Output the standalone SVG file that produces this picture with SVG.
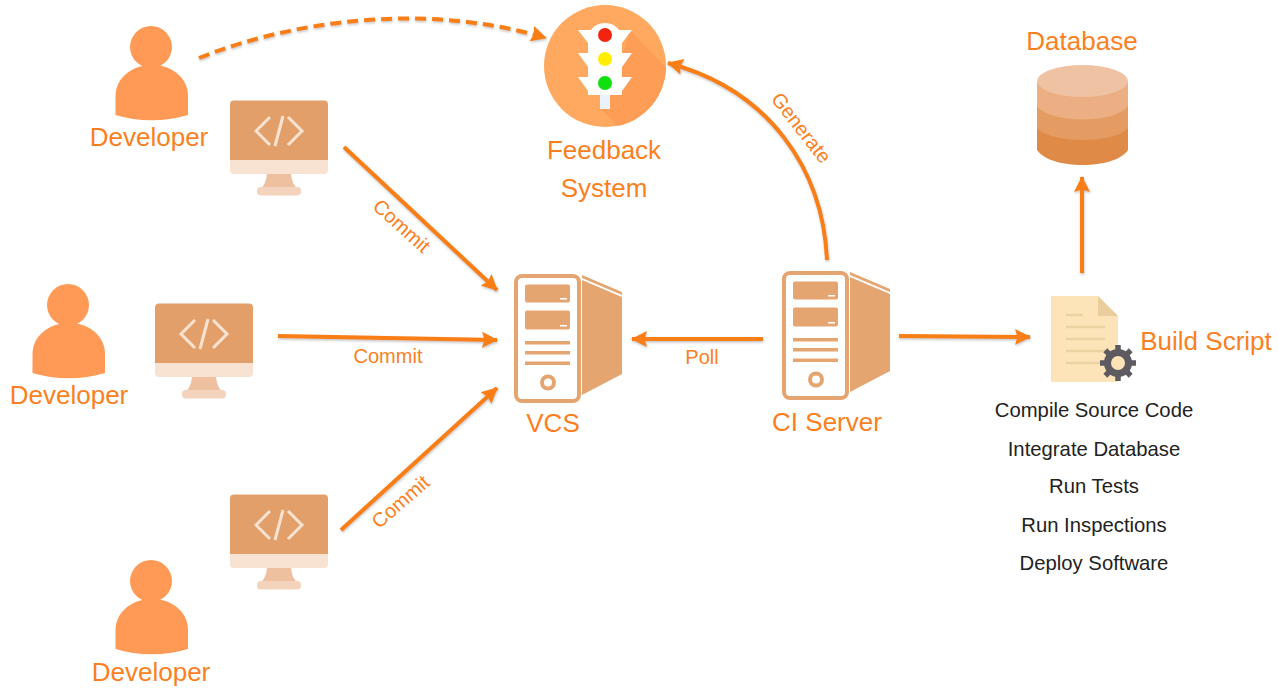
<svg xmlns="http://www.w3.org/2000/svg" width="1278" height="688" viewBox="0 0 1278 688">
<style>
text{font-family:"Liberation Sans",Arial,sans-serif;text-anchor:middle}
.lg{font-size:26px;fill:#fb7f1e}
.sm{font-size:20px;fill:#fb7f1e}
.bk{font-size:20.300px;fill:#222}
.c{fill:none;stroke:#f97e14;stroke-width:4}
.srv{fill:#e5a570}
</style>
<defs>
<filter id="sh" filterUnits="userSpaceOnUse" x="0" y="0" width="1278" height="688"><feDropShadow dx="0.500" dy="1.500" stdDeviation="1" flood-color="#555" flood-opacity="0.350"/></filter>
<marker id="ah" markerUnits="userSpaceOnUse" markerWidth="18" markerHeight="18" refX="15" refY="9" orient="auto"><path d="M0 1L16 9L0 17L2.500 9Z" fill="#f97e14"/></marker>
<g id="person"><circle cx="151" cy="47" r="21" fill="#fe9a56"/><path d="M115.500 115V96C115.500 78 132 65 152 65C172 65 188 78 188 96V115C165 122 138 122 115.500 115Z" fill="#fe9a56"/></g>
<g id="monitor">
<path d="M234 100.500H324Q328 100.500 328 104.500V160H230V104.500Q230 100.500 234 100.500Z" fill="#e39f69"/>
<path d="M230 160H328V170Q328 174 324 174H234Q230 174 230 170Z" fill="#f8e3d3"/>
<path d="M267 174H291Q292 184 297 188H261Q266 184 267 174Z" fill="#efc09f"/>
<rect x="257" y="187" width="44" height="8.500" rx="4" fill="#f4d3bc"/>
<path d="M270 117L256 131L270 145M288 117L302 131L288 145M283 116L275 146" fill="none" stroke="#f8e3d3" stroke-width="3"/>
</g>
<g id="server">
<rect x="516" y="276" width="63" height="125" rx="6" fill="#fff" stroke="#e5a570" stroke-width="4"/>
<rect x="525" y="284.500" width="45" height="18" rx="2" class="srv"/>
<rect x="525" y="310.500" width="45" height="19" rx="2" class="srv"/>
<rect x="560" y="298" width="7" height="1.500" fill="#fff"/>
<rect x="560" y="325" width="7" height="1.500" fill="#fff"/>
<rect x="525" y="341" width="45" height="3.500" class="srv"/>
<rect x="525" y="351" width="45" height="3.500" class="srv"/>
<rect x="525" y="361.500" width="45" height="3.500" class="srv"/>
<circle cx="548" cy="382.500" r="6" fill="#fff" stroke="#e5a570" stroke-width="4"/>
<path d="M582 280L622 297V374L582 395Z" class="srv"/>
<path d="M582 275L622 292V295L582 278Z" class="srv"/>
</g>
</defs>
<g id="connectors" filter="url(#sh)">
<path class="c" stroke-dasharray="11 6" marker-end="url(#ah)" d="M199 58C310 14 440 6 546 38"/>
<path class="c" marker-end="url(#ah)" d="M827 260C823 170 770 90 668 63"/>
<path class="c" marker-end="url(#ah)" d="M344 147L497 290"/>
<path class="c" marker-end="url(#ah)" d="M278 336L497 340"/>
<path class="c" marker-end="url(#ah)" d="M341 530L497 388"/>
<path class="c" marker-end="url(#ah)" d="M763 339L632 339"/>
<path class="c" marker-end="url(#ah)" d="M899 336L1030 337"/>
<path class="c" marker-end="url(#ah)" d="M1082 273L1082 177"/>
</g>
<g id="edge-labels">
<text class="sm" transform="translate(397,231) rotate(42)">Commit</text>
<text class="sm" x="388" y="363">Commit</text>
<text class="sm" transform="translate(405,507) rotate(-41)">Commit</text>
<text class="sm" x="702" y="364">Poll</text>
<text class="sm" transform="translate(796,132) rotate(52)">Generate</text>
</g>
<g id="developer-1"><use href="#person"/><text class="lg" x="149" y="146">Developer</text></g>
<g id="monitor-1"><use href="#monitor"/></g>
<g id="developer-2"><use href="#person" transform="translate(-83,258)"/><text class="lg" x="69" y="404">Developer</text></g>
<g id="monitor-2"><use href="#monitor" transform="translate(-75,203)"/></g>
<g id="developer-3"><use href="#person" transform="translate(0,534)"/><text class="lg" x="151" y="681">Developer</text></g>
<g id="monitor-3"><use href="#monitor" transform="translate(0,394)"/></g>
<g id="feedback">
<circle cx="605" cy="66" r="61" fill="#fea95f"/>
<path d="M630 30L666 68A61 61 0 0 1 618 126L600 108L610 95Z" fill="#fe9d55"/>
<path d="M578 30H591Q596 23 605 23Q614 23 619 30H632L622 43V53H632L622 67V77H632L622 91V95H588V91L578 77H588V67L578 53H588V43Z" fill="#fff"/>
<rect x="600" y="95" width="10" height="14" fill="#eaf2fb"/>
<circle cx="605" cy="35" r="7" fill="#f2230f"/>
<circle cx="605" cy="59" r="7" fill="#ffee00"/>
<circle cx="605" cy="83" r="7" fill="#0fe00f"/>
<text class="lg" x="604" y="159">Feedback</text>
<text class="lg" x="604" y="197">System</text>
</g>
<g id="vcs"><use href="#server"/><text class="lg" x="553" y="432">VCS</text></g>
<g id="ci-server"><use href="#server" transform="translate(268,-3)"/><text class="lg" x="827" y="431">CI Server</text></g>
<g id="database">
<path d="M1037 128V150C1050 170 1115 170 1128 150V128Z" fill="#e08a47"/>
<path d="M1037 106V128C1050 144 1115 144 1128 128V106Z" fill="#e59c62"/>
<path d="M1037 82V106C1050 124 1115 124 1128 106V82Z" fill="#ecaf83"/>
<ellipse cx="1082.500" cy="81" rx="45.500" ry="16" fill="#eec2a2"/>
<text class="lg" x="1082" y="50">Database</text>
</g>
<g id="build-script">
<path d="M1051 296H1098L1118 316V382H1051Z" fill="#fde4b8"/>
<path d="M1098 296L1118 316H1098Z" fill="#e9cd9d"/>
<path d="M1066 315H1083M1066 327H1105M1066 339H1105M1066 351H1105M1066 363H1100" stroke="#ecd3a4" stroke-width="2.500" fill="none"/>
<circle cx="1118" cy="363" r="10.500" fill="#fde4b8" stroke="#5d5a60" stroke-width="7"/>
<path d="M1118 345V351M1118 375V381M1100 363H1106M1130 363H1136M1105.300 350.300L1109.500 354.500M1126.500 371.500L1130.700 375.700M1130.700 350.300L1126.500 354.500M1109.500 371.500L1105.300 375.700" stroke="#5d5a60" stroke-width="5.500" fill="none"/>
<text class="lg" x="1206" y="350">Build Script</text>
<text class="bk" x="1094" y="417">Compile Source Code</text>
<text class="bk" x="1094" y="456">Integrate Database</text>
<text class="bk" x="1094" y="493">Run Tests</text>
<text class="bk" x="1094" y="532">Run Inspections</text>
<text class="bk" x="1094" y="570">Deploy Software</text>
</g>
</svg>
